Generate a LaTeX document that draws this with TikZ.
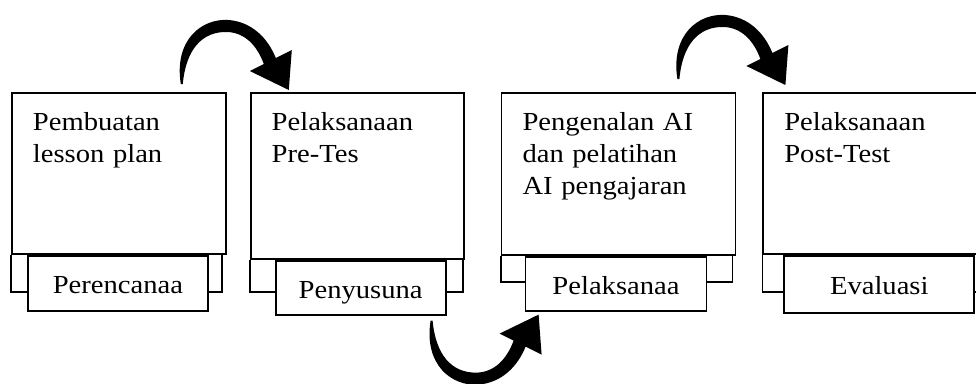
\documentclass[tikz,border=0pt]{standalone}
\usepackage{fontspec}
\setmainfont{Liberation Serif}[FakeStretch=1.1]
\usetikzlibrary{positioning,calc}

\tikzset{
  stage/.style={draw,line width=1.8pt,anchor=north west,align=left,
    text width=#1,inner xsep=21pt,inner ysep=21pt,text height=17pt,
    font=\fontsize{26}{32}\selectfont},
  phase/.style={draw,line width=1.8pt,align=center,inner sep=0pt,
    text height=21pt,text depth=0pt,font=\fontsize{26}{32}\selectfont},
  leg/.style={line width=1.8pt},
  bentarrow/.pic={
    \fill (-1,1) .. controls (-8,-43) and (20,-65) .. (47,-63)
      .. controls (70,-61) and (86,-45) .. (94,-25)
      -- (110,-33) -- (107,7) -- (68,-12) -- (82,-19)
      .. controls (75,-38) and (63,-50) .. (46,-51)
      .. controls (20,-52) and (4,-33) .. (1,1) -- cycle;
  }
}

\begin{document}
\begin{tikzpicture}[x=1pt,y=-1pt]
\useasboundingbox (0,0) rectangle (976,383);
\clip (0,0) rectangle (976,383);

\node[stage=172pt,text depth=102pt] (pem) at (11,92) {Pembuatan\\lesson plan};
\node[stage=171pt,text depth=107pt,below right=0pt and 23pt of pem.north east] (pre) {Pelaksanaan\\Pre-Tes};
\node[stage=192pt,text depth=103pt,below right=0pt and 36pt of pre.north east] (pai) {Pengenalan AI\\dan pelatihan\\AI pengajaran};
\node[stage=200pt,text depth=102pt,below right=0pt and 26pt of pai.north east] (post) {Pelaksanaan\\Post-Test};

\node[phase,minimum width=180pt,minimum height=55pt,below right=0pt and 16pt of pem.south west] (ren) {Perencanaa};
\node[phase,minimum width=170pt,minimum height=54pt,below right=0pt and 25pt of pre.south west] (sus) {Penyusuna};
\node[phase,minimum width=181pt,minimum height=54pt,below right=0pt and 24pt of pai.south west] (lak) {Pelaksanaa};
\node[phase,minimum width=190pt,minimum height=57pt,below right=0pt and 21pt of post.south west] (eva) {Evaluasi};

\draw[leg] (pem.south west) |- ($(ren.south west)+(0,-20)$)
  ($(ren.south east)+(0,-20)$) -| ($(pem.south east)+(-5,0)$);
\draw[leg] (pre.south west) |- ($(sus.south west)+(0,-24)$)
  ($(sus.south east)+(0,-24)$) -| ($(pre.south east)+(-2,0)$);
\draw[leg] (pai.south west) |- ($(lak.south west)+(0,-30)$)
  ($(lak.south east)+(0,-30)$) -| ($(pai.south east)+(-4,0)$);
\draw[leg] (post.south west) |- ($(eva.south west)+(0,-22)$)
  ($(eva.south east)+(0,-22)$) -| ($(post.south east)+(-5,0)$);

\pic at ($(pem.north east)+(-45,-9)$) {bentarrow};
\pic[yscale=-1] at ($(sus.south east)+(-15,6)$) {bentarrow};
\pic at ($(pai.north east)+(-58,-14)$) {bentarrow};
\end{tikzpicture}
\end{document}
